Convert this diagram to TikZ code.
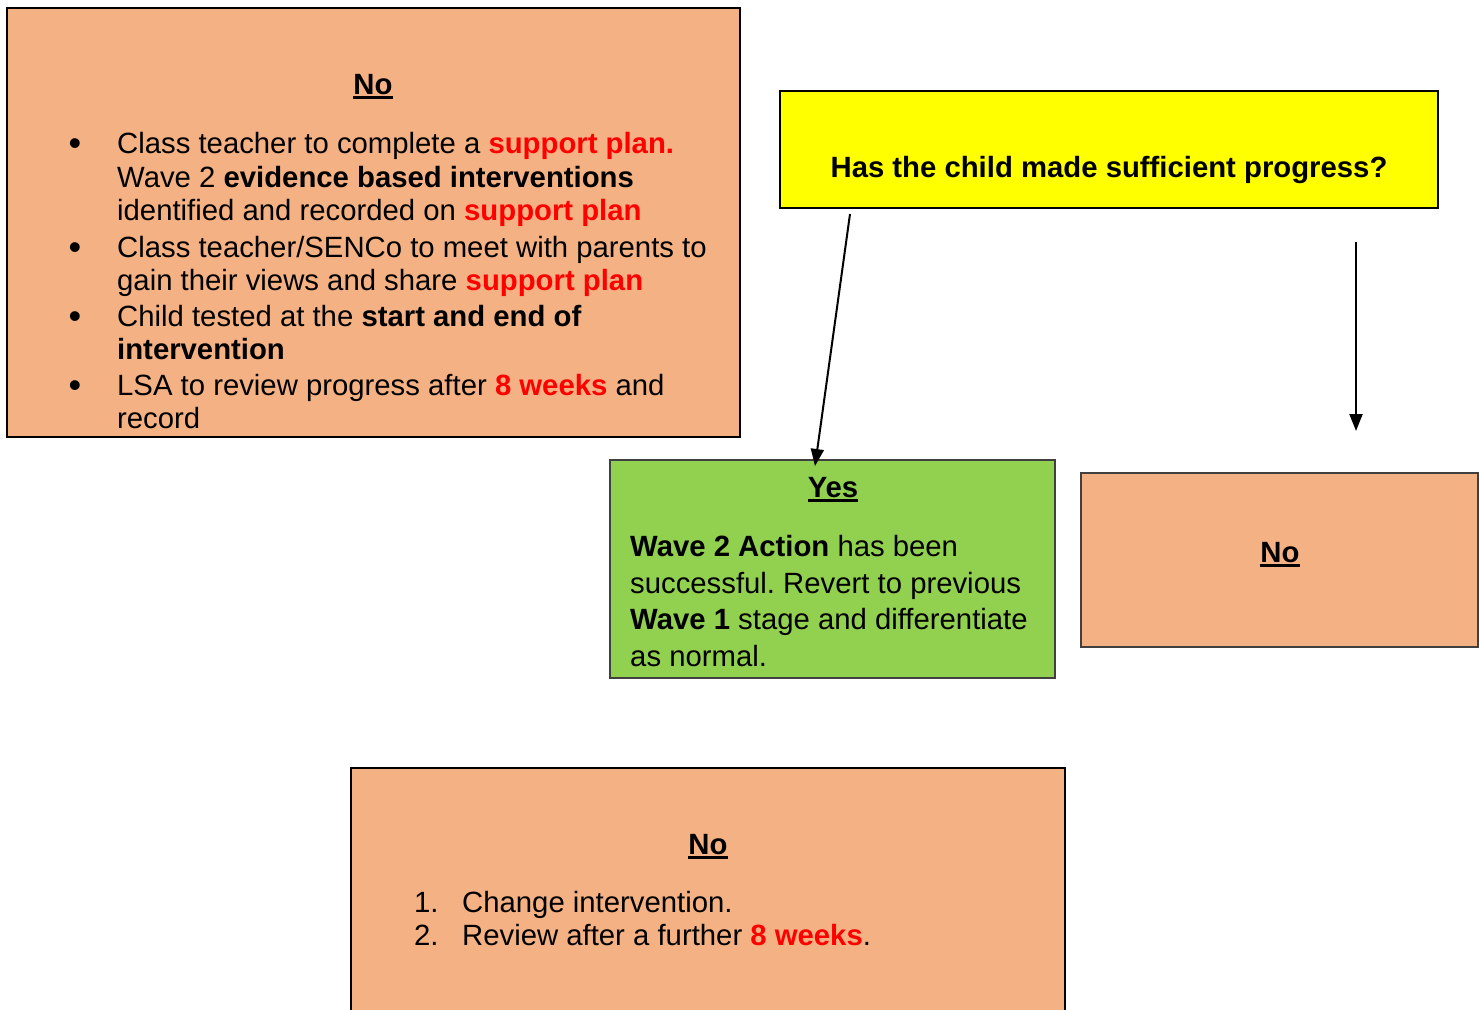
\documentclass[tikz,border=0pt]{standalone}
\usepackage{fontspec}
\setmainfont{Liberation Sans}
\usetikzlibrary{arrows.meta}
\definecolor{orng}{HTML}{F4B183}
\definecolor{grn}{HTML}{92D050}
\definecolor{redt}{HTML}{FF0000}
\definecolor{yelw}{HTML}{FFFF00}
\definecolor{thinb}{HTML}{404040}
\newcommand\myul[1]{\setbox0\hbox{#1}\rlap{\rule[-4.5pt]{\wd0}{2.6pt}}\box0}
\newcommand\rb[1]{\textcolor{redt}{\textbf{#1}}}
\frenchspacing
\begin{document}
\begin{tikzpicture}[x=1pt,y=-1pt,
  box/.style={draw=black, line width=2pt, anchor=north west, inner sep=0pt, outer sep=0pt},
  thinbox/.style={draw=thinb, line width=1.2pt, anchor=north west, inner sep=0pt, outer sep=0pt},
  txt/.style={inner sep=0pt, anchor=base west, font=\fontsize{29.3}{34}\selectfont},
  ctxt/.style={txt, anchor=base},
  bul/.style={inner sep=0pt, anchor=base, font=\fontsize{36}{34}\selectfont},
  arr/.style={line width=2pt, -{Triangle[length=17pt,width=13pt]}}]
\useasboundingbox (0,0) rectangle (1479,1009);
\clip (0,0) rectangle (1479,1009);
% boxes
\node[box, fill=orng, minimum width=733pt, minimum height=429pt] (boxA) at (7,8) {};
\node[box, fill=yelw, minimum width=658pt, minimum height=117pt] (boxQ) at (780,91) {};
\node[thinbox, fill=grn, minimum width=445pt, minimum height=218pt] (boxY) at (610,460) {};
\node[thinbox, fill=orng, minimum width=397pt, minimum height=174pt] (boxN) at (1081,473) {};
\node[box, fill=orng, minimum width=714pt, minimum height=260pt] (boxB) at (351,768) {};
% box A text
\node[ctxt] (noA) at (373,94) {\textbf{\myul{No}}};
\node[bul] (bA1) at (75,155) {•};
\node[bul] (bA2) at (75,259) {•};
\node[bul] (bA3) at (75,328) {•};
\node[bul] (bA4) at (75,397) {•};
\node[txt] (lA1) at (117,153) {Class teacher to complete a \rb{support plan.}};
\node[txt] (lA2) at (117,187) {Wave 2 \textbf{evidence based interventions}};
\node[txt] (lA3) at (117,220) {identified and recorded on \rb{support plan}};
\node[txt] (lA4) at (117,257) {Class teacher/SENCo to meet with parents to};
\node[txt] (lA5) at (117,290) {gain their views and share \rb{support plan}};
\node[txt] (lA6) at (117,326) {Child tested at the \textbf{start and end of}};
\node[txt] (lA7) at (117,359) {\textbf{intervention}};
\node[txt] (lA8) at (117,395) {LSA to review progress after \rb{8 weeks} and};
\node[txt] (lA9) at (117,428) {record};
% question
\node[ctxt] (q) at (1109,177) {\textbf{Has the child made sufficient progress?}};
% yes box
\node[ctxt] (yes) at (833,497) {\textbf{\myul{Yes}}};
\node[txt] (lY1) at (630,556) {\textbf{Wave 2 Action} has been};
\node[txt] (lY2) at (630,593) {successful. Revert to previous};
\node[txt] (lY3) at (630,629) {\textbf{Wave 1} stage and differentiate};
\node[txt] (lY4) at (630,666) {as normal.};
% right no
\node[ctxt] (noN) at (1280,562) {\textbf{\myul{No}}};
% bottom box
\node[ctxt] (noB) at (708,854) {\textbf{\myul{No}}};
\node[txt] (n1) at (414,912) {1.};
\node[txt] (n2) at (414,945) {2.};
\node[txt] (lB1) at (462,912) {Change intervention.};
\node[txt] (lB2) at (462,945) {Review after a further \rb{8 weeks}.};
% arrows
\coordinate (ys) at (850,214);
\coordinate (ye) at (815,466);
\coordinate (ns) at (1356,242);
\coordinate (ne) at (1356,431);
\draw[arr] (ys) -- (ye);
\draw[arr] (ns) -- (ne);
\end{tikzpicture}
\end{document}
